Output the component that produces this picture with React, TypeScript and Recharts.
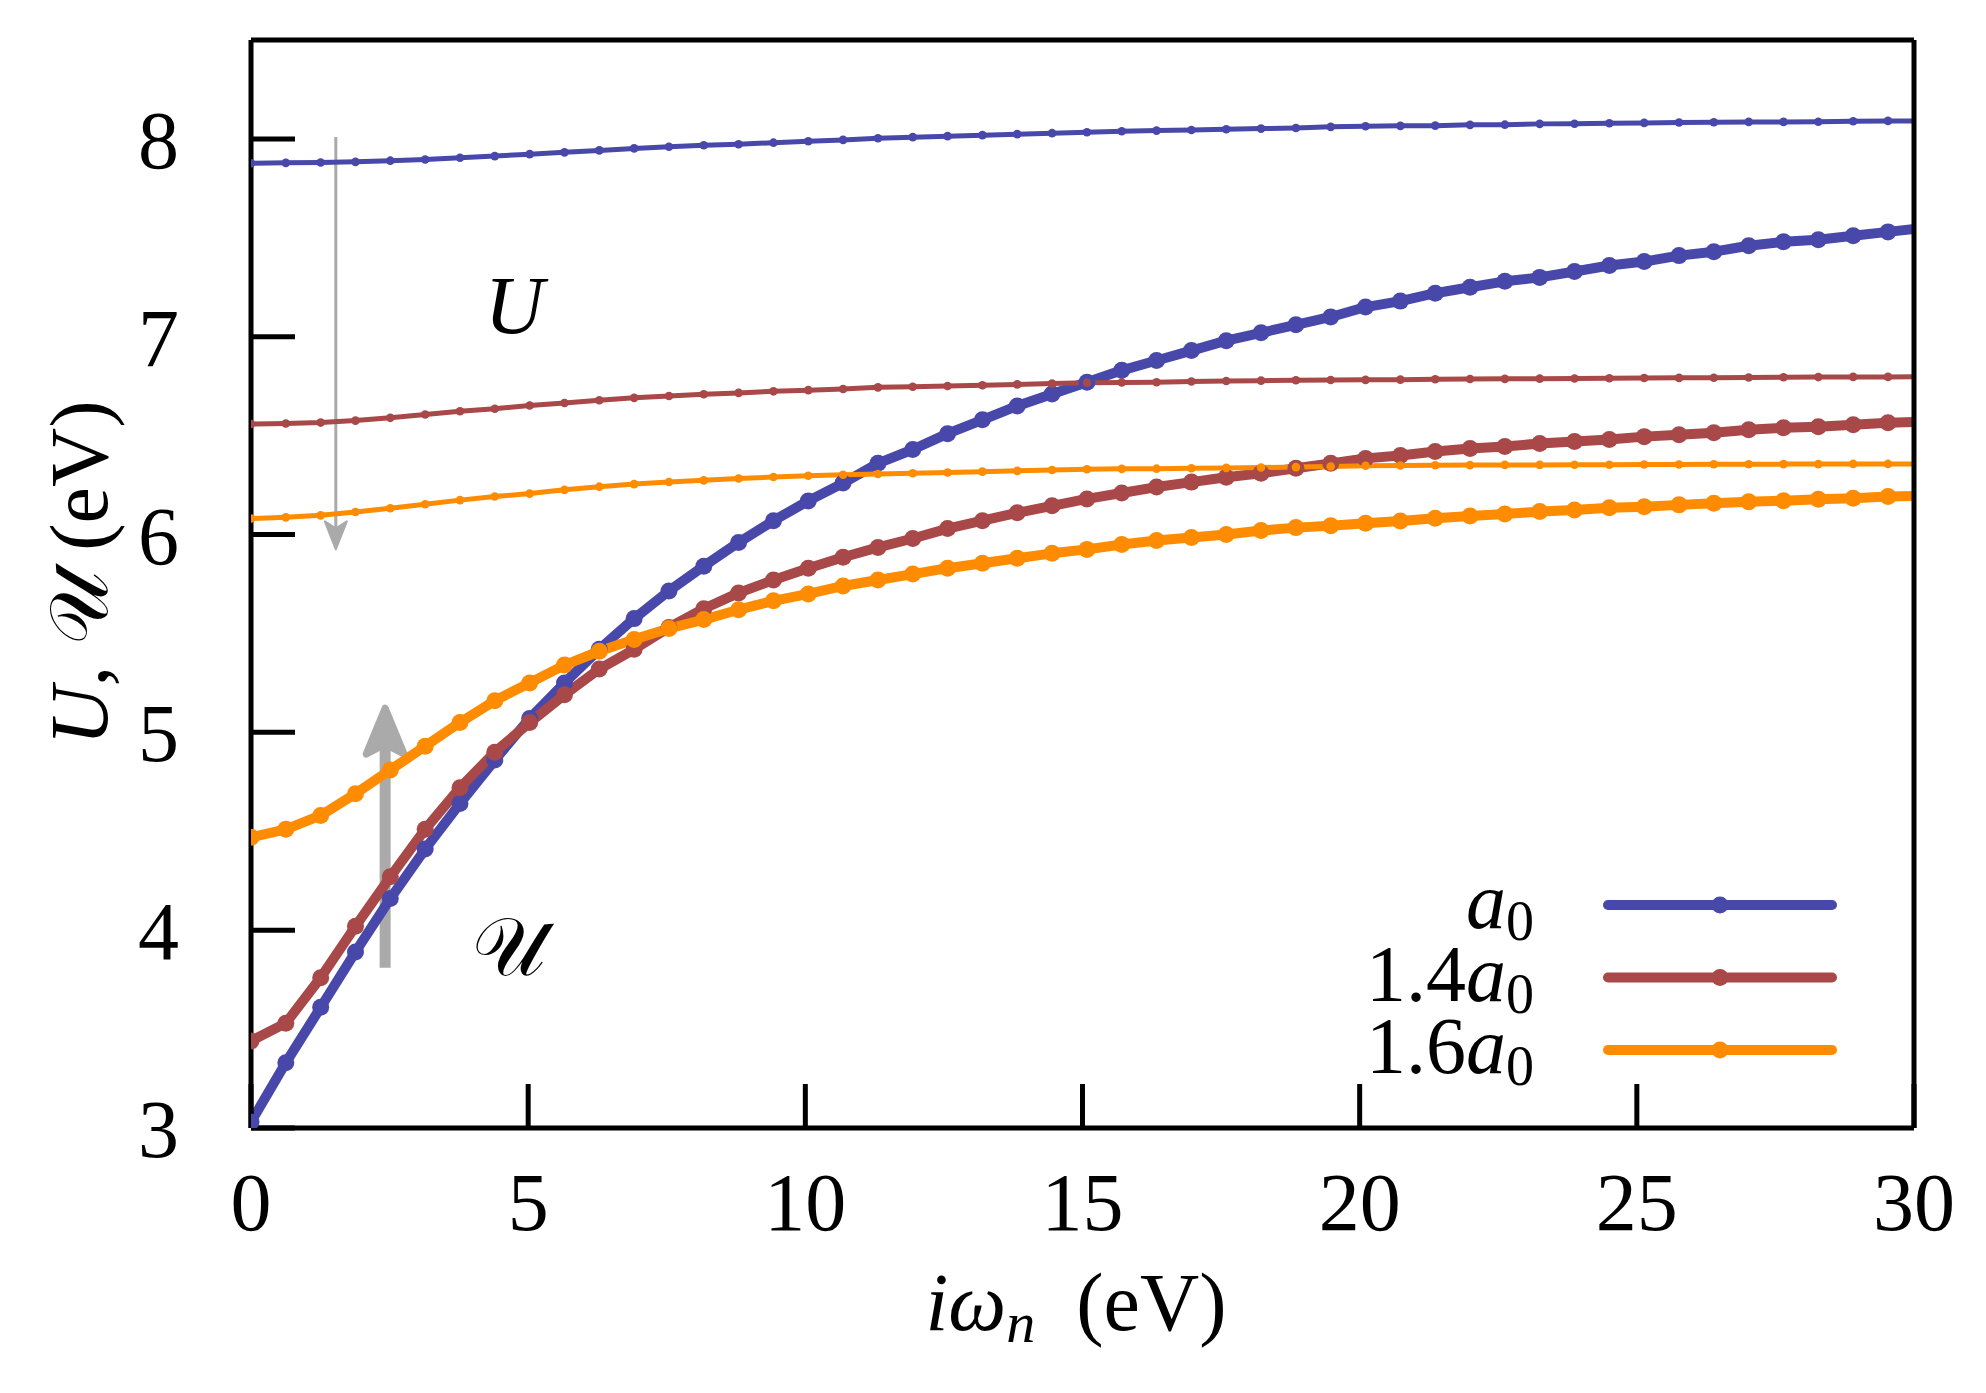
import React from 'react';
import { LineChart, Line, XAxis, YAxis, ReferenceLine, ReferenceDot } from 'recharts';

// Matsubara frequencies i*omega_n (eV), beta = 10 eV^-1
const omega = [
  0, 0.628, 1.257, 1.885, 2.513, 3.142, 3.77, 4.398, 5.027, 5.655,
  6.283, 6.912, 7.54, 8.168, 8.796, 9.425, 10.053, 10.681, 11.31, 11.938,
  12.566, 13.195, 13.823, 14.451, 15.08, 15.708, 16.336, 16.965, 17.593, 18.221,
  18.85, 19.478, 20.106, 20.735, 21.363, 21.991, 22.619, 23.248, 23.876, 24.504,
  25.133, 25.761, 26.389, 27.018, 27.646, 28.274, 28.903, 29.531, 30.159,
];

// screened interaction (script U), thick lines
const calU_a0 = [
  3.03, 3.33, 3.61, 3.89, 4.16, 4.41, 4.64, 4.86, 5.07, 5.25,
  5.42, 5.575, 5.715, 5.84, 5.96, 6.07, 6.17, 6.26, 6.36, 6.43,
  6.51, 6.58, 6.65, 6.71, 6.77, 6.83, 6.88, 6.93, 6.98, 7.02,
  7.06, 7.10, 7.15, 7.18, 7.22, 7.25, 7.28, 7.30, 7.33, 7.36,
  7.38, 7.41, 7.43, 7.46, 7.48, 7.49, 7.51, 7.53, 7.55,
];
const calU_14a0 = [
  3.44, 3.53, 3.76, 4.02, 4.27, 4.51, 4.72, 4.9, 5.05, 5.19,
  5.32, 5.42, 5.53, 5.625, 5.705, 5.77, 5.83, 5.885, 5.935, 5.98,
  6.03, 6.07, 6.11, 6.145, 6.18, 6.21, 6.24, 6.265, 6.29, 6.31,
  6.335, 6.36, 6.385, 6.4, 6.42, 6.435, 6.445, 6.46, 6.47, 6.48,
  6.495, 6.505, 6.515, 6.53, 6.54, 6.545, 6.555, 6.565, 6.57,
];
const calU_16a0 = [
  4.47, 4.51, 4.58, 4.69, 4.81, 4.93, 5.05, 5.16, 5.25, 5.34,
  5.41, 5.47, 5.525, 5.57, 5.62, 5.665, 5.7, 5.74, 5.77, 5.8,
  5.83, 5.855, 5.88, 5.905, 5.925, 5.95, 5.97, 5.985, 6.0, 6.02,
  6.035, 6.045, 6.057, 6.069, 6.082, 6.094, 6.104, 6.116, 6.124, 6.136,
  6.141, 6.15, 6.158, 6.166, 6.171, 6.178, 6.183, 6.192, 6.195,
];

// partially screened interaction (U), thin lines
const U_a0 = [
  7.877, 7.879, 7.881, 7.884, 7.89, 7.896, 7.905, 7.913, 7.923, 7.932,
  7.942, 7.952, 7.96, 7.968, 7.973, 7.981, 7.988, 7.995, 8.003, 8.009,
  8.014, 8.019, 8.024, 8.029, 8.034, 8.039, 8.042, 8.045, 8.049, 8.052,
  8.055, 8.061, 8.064, 8.066, 8.067, 8.071, 8.072, 8.076, 8.077, 8.079,
  8.081, 8.083, 8.084, 8.086, 8.086, 8.087, 8.089, 8.091, 8.091,
];
const U_14a0 = [
  6.559, 6.561, 6.566, 6.576, 6.59, 6.607, 6.623, 6.636, 6.652, 6.665,
  6.679, 6.691, 6.7, 6.709, 6.716, 6.724, 6.73, 6.736, 6.744, 6.747,
  6.751, 6.755, 6.759, 6.763, 6.767, 6.769, 6.77, 6.774, 6.776, 6.778,
  6.78, 6.781, 6.782, 6.783, 6.785, 6.786, 6.787, 6.788, 6.789, 6.79,
  6.791, 6.792, 6.793, 6.794, 6.795, 6.796, 6.797, 6.797, 6.798,
];
const U_16a0 = [
  6.081, 6.087, 6.097, 6.114, 6.133, 6.153, 6.174, 6.192, 6.207, 6.226,
  6.242, 6.255, 6.266, 6.274, 6.283, 6.291, 6.297, 6.302, 6.306, 6.31,
  6.314, 6.318, 6.322, 6.326, 6.33, 6.332, 6.333, 6.335, 6.337, 6.339,
  6.341, 6.344, 6.348, 6.349, 6.35, 6.351, 6.352, 6.352, 6.353, 6.353,
  6.354, 6.354, 6.355, 6.355, 6.356, 6.356, 6.357, 6.357, 6.357,
];

const xTicks = [0, 5, 10, 15, 20, 25, 30];
const yTicks = [3, 4, 5, 6, 7, 8];

const BLUE = '#4848aa';
const RED = '#a84848';
const ORANGE = '#ff8c00';
const GREY = '#aaaaaa';
const FONT = "'Liberation Serif', 'DejaVu Serif', serif";

const legendRows = [
  { pre: '', color: BLUE },
  { pre: '1.4', color: RED },
  { pre: '1.6', color: ORANGE },
];

const series = [
  { key: 'calU_a0', values: calU_a0, color: BLUE, thick: true },
  { key: 'calU_14a0', values: calU_14a0, color: RED, thick: true },
  { key: 'calU_16a0', values: calU_16a0, color: ORANGE, thick: true },
  { key: 'U_a0', values: U_a0, color: BLUE, thick: false },
  { key: 'U_14a0', values: U_14a0, color: RED, thick: false },
  { key: 'U_16a0', values: U_16a0, color: ORANGE, thick: false },
];

const data = omega.map((w, i) => {
  const row: Record<string, number> = { w };
  series.forEach((s) => (row[s.key] = s.values[i]));
  return row;
});

const W = 1970;
const H = 1377;

function arrowShape(width: number, headLen: number, half: number, notch: number, round: number) {
  return (props: any) => {
    const { x1, y1, x2, y2 } = props;
    const dx = x2 - x1;
    const dy = y2 - y1;
    const len = Math.hypot(dx, dy) || 1;
    const ux = dx / len;
    const uy = dy / len;
    const tx = x2 - ux * round * 0.5;
    const ty = y2 - uy * round * 0.5;
    const bx = tx - ux * headLen;
    const by = ty - uy * headLen;
    const nx = tx - ux * notch;
    const ny = ty - uy * notch;
    const pts = [
      [tx, ty],
      [bx - uy * half, by + ux * half],
      [nx, ny],
      [bx + uy * half, by - ux * half],
    ]
      .map((p) => p.join(','))
      .join(' ');
    return (
      <g>
        <line x1={x1} y1={y1} x2={nx} y2={ny} stroke={GREY} strokeWidth={width} />
        <polygon points={pts} fill={GREY} stroke={GREY} strokeWidth={round} strokeLinejoin="round" />
      </g>
    );
  };
}

function textMark(label: string, italic: boolean) {
  return (props: any) => (
    <text
      x={props.cx}
      y={props.cy}
      textAnchor="middle"
      dominantBaseline="central"
      fontFamily={FONT}
      fontStyle={italic ? 'italic' : 'normal'}
      fontSize={82}
      fill="#000"
    >
      {label}
    </text>
  );
}

export default function App() {
  const axisLine = { stroke: '#000', strokeWidth: 5 };
  const tickLine = { stroke: '#000', strokeWidth: 5 };
  const tickFont = { fontSize: 82, fontFamily: FONT, fill: '#000' };

  return (
    <div style={{ position: 'relative', width: W, height: H, background: '#fff' }}>
      <LineChart width={W} height={H} data={data} margin={{ top: 2, right: 34, bottom: 107, left: 13 }}>
        <XAxis
          dataKey="w"
          type="number"
          domain={[0, 30]}
          ticks={xTicks}
          allowDataOverflow
          height={150}
          tickSize={-44}
          tickMargin={88}
          axisLine={axisLine}
          tickLine={tickLine}
          tick={tickFont}
        />
        <XAxis
          xAxisId="top"
          orientation="top"
          type="number"
          domain={[0, 30]}
          ticks={xTicks}
          allowDataOverflow
          height={30}
          tickSize={-44}
          axisLine={axisLine}
          tickLine={tickLine}
          tick={false}
        />
        <YAxis
          type="number"
          domain={[3, 8.5]}
          ticks={yTicks}
          allowDataOverflow
          width={230}
          tickSize={-44}
          tickMargin={116}
          axisLine={axisLine}
          tickLine={tickLine}
          tick={tickFont}
        />
        <YAxis
          yAxisId="right"
          orientation="right"
          type="number"
          domain={[3, 8.5]}
          ticks={yTicks}
          allowDataOverflow
          width={30}
          tickSize={-44}
          axisLine={axisLine}
          tickLine={tickLine}
          tick={false}
        />

        <ReferenceLine
          segment={[{ x: 1.53, y: 8.01 }, { x: 1.53, y: 5.92 }]}
          shape={arrowShape(3, 28, 11, 21, 2)}
        />
        <ReferenceLine
          segment={[{ x: 2.42, y: 3.81 }, { x: 2.42, y: 5.14 }]}
          shape={arrowShape(11, 46, 19, 36, 7)}
        />

        {series.map((s) => (
          <Line
            key={s.key}
            dataKey={s.key}
            type="linear"
            stroke={s.color}
            strokeWidth={s.thick ? 10 : 5}
            strokeLinejoin="round"
            dot={{ r: s.thick ? 8.5 : 4.3, fill: s.color, stroke: s.color, strokeWidth: 0 }}
            activeDot={false}
            isAnimationActive={false}
          />
        ))}

        <ReferenceDot x={4.75} y={7.16} r={0} shape={textMark('U', true)} />
        <ReferenceDot x={4.65} y={3.91} r={0} shape={textMark('\u{1D4B0}', false)} />
      </LineChart>

      <svg
        width={W}
        height={H}
        style={{ position: 'absolute', left: 0, top: 0, pointerEvents: 'none' }}
        fontFamily={FONT}
      >
        <text transform="translate(99,565) rotate(-90)" textAnchor="middle" fontSize={82} fill="#000">
          <tspan fontStyle="italic">U</tspan>
          <tspan>, </tspan>
          <tspan>{'\u{1D4B0}'}</tspan>
          <tspan> (eV)</tspan>
        </text>
        <text x={1068} y={1322} textAnchor="middle" fontSize={82} fill="#000">
          <tspan fontStyle="italic">i{'\u03C9'}</tspan>
          <tspan fontStyle="italic" fontSize={58} dy={12}>n</tspan>
          <tspan dy={-12}>{'\u00A0 (eV)'}</tspan>
        </text>

        {legendRows.map((r, i) => {
          const y = 897 + i * 72.5;
          return (
            <g key={i}>
              <text x={1526} y={y + 23} textAnchor="end" fontSize={80} fill="#000">
                {r.pre}
                <tspan fontStyle="italic">a</tspan>
                <tspan fontSize={56} dy={12}>0</tspan>
              </text>
              <line x1={1600} y1={y} x2={1824} y2={y} stroke={r.color} strokeWidth={10} strokeLinecap="round" />
              <circle cx={1712} cy={y} r={8.5} fill={r.color} />
            </g>
          );
        })}
      </svg>
    </div>
  );
}
